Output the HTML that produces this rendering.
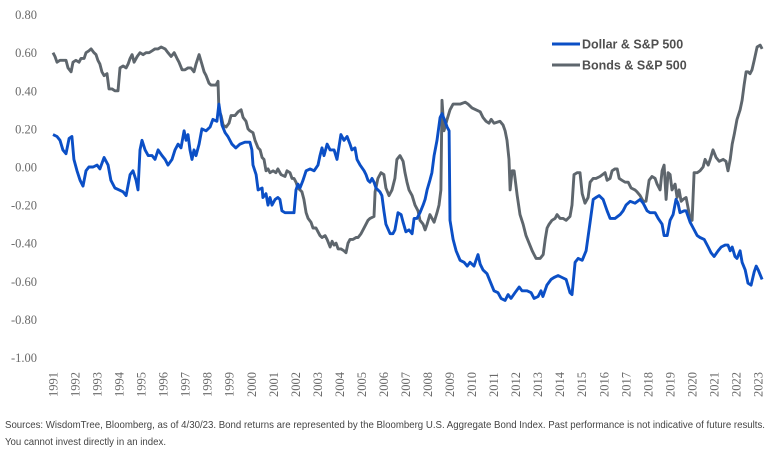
<!DOCTYPE html>
<html><head><meta charset="utf-8"><style>
html,body{margin:0;padding:0;background:#fff;}
svg{display:block;}
.tick{font-family:"Liberation Serif",serif;font-size:12.5px;fill:#6a6a6a;}
.leg{font-family:"Liberation Sans",sans-serif;font-size:12.5px;font-weight:bold;fill:#505050;}
.src{font-family:"Liberation Sans",sans-serif;font-size:10.5px;fill:#444;}
</style></head><body>
<svg id="chart" width="780" height="459" viewBox="0 0 780 459">
<g id="yaxis"></g>
<g id="xaxis"></g>
<g id="series"></g>
<g>
<g>
<line x1="552" y1="44" x2="580" y2="44" stroke="#0b4fc6" stroke-width="3"/>
<text class="leg" x="582" y="48.5">Dollar &amp; S&amp;P 500</text></g>
<g>
<line x1="552" y1="65" x2="580" y2="65" stroke="#5e666d" stroke-width="3"/>
<text class="leg" x="582" y="69.5">Bonds &amp; S&amp;P 500</text></g>
</g>
<text class="src" x="5" y="428" textLength="760" lengthAdjust="spacingAndGlyphs">Sources: WisdomTree, Bloomberg, as of 4/30/23. Bond returns are represented by the Bloomberg U.S. Aggregate Bond Index. Past performance is not indicative of future results.</text>
<text class="src" x="5" y="445" textLength="161" lengthAdjust="spacingAndGlyphs">You cannot invest directly in an index.</text>
</svg>
<script>
const yTicks=[0.8,0.6,0.4,0.2,0,-0.2,-0.4,-0.6,-0.8,-1.0];
const yearLabels=[1991,1992,1993,1994,1995,1996,1997,1998,1999,2000,2001,2002,2003,2004,2005,2006,2007,2008,2009,2010,2011,2012,2013,2014,2015,2016,2017,2018,2019,2020,2021,2022,2023];
const dollarDates=[1991.00,1991.18,1991.32,1991.45,1991.59,1991.73,1991.86,1991.95,1992.09,1992.23,1992.36,1992.50,1992.63,1992.82,1993.00,1993.13,1993.32,1993.50,1993.63,1993.81,1994.00,1994.18,1994.32,1994.50,1994.63,1994.77,1994.86,1994.95,1995.04,1995.18,1995.32,1995.50,1995.63,1995.77,1995.95,1996.09,1996.22,1996.40,1996.54,1996.68,1996.81,1996.95,1997.04,1997.13,1997.22,1997.31,1997.40,1997.49,1997.63,1997.76,1997.95,1998.13,1998.26,1998.44,1998.53,1998.67,1998.81,1998.94,1999.12,1999.30,1999.49,1999.71,1999.94,2000.03,2000.08,2000.22,2000.31,2000.49,2000.53,2000.67,2000.76,2000.85,2000.94,2001.08,2001.21,2001.30,2001.39,2001.53,2001.76,2001.94,2002.03,2002.12,2002.21,2002.35,2002.49,2002.67,2002.85,2003.03,2003.12,2003.21,2003.30,2003.44,2003.58,2003.76,2003.89,2004.07,2004.21,2004.35,2004.48,2004.57,2004.71,2004.80,2004.94,2005.12,2005.21,2005.30,2005.39,2005.48,2005.57,2005.66,2005.75,2005.84,2005.93,2006.02,2006.11,2006.30,2006.43,2006.52,2006.66,2006.80,2006.89,2007.02,2007.16,2007.30,2007.39,2007.52,2007.66,2007.80,2007.89,2007.98,2008.11,2008.20,2008.30,2008.43,2008.57,2008.66,2008.80,2008.89,2008.98,2009.02,2009.16,2009.30,2009.48,2009.66,2009.80,2009.93,2010.11,2010.20,2010.29,2010.39,2010.52,2010.70,2010.84,2011.02,2011.20,2011.34,2011.52,2011.66,2011.79,2011.97,2012.16,2012.29,2012.52,2012.70,2012.84,2013.02,2013.15,2013.24,2013.42,2013.61,2013.74,2013.93,2014.11,2014.29,2014.47,2014.56,2014.70,2014.84,2015.02,2015.20,2015.38,2015.52,2015.65,2015.79,2015.97,2016.15,2016.29,2016.51,2016.74,2016.88,2017.01,2017.20,2017.42,2017.65,2017.79,2017.97,2018.10,2018.33,2018.47,2018.65,2018.74,2018.88,2019.01,2019.15,2019.28,2019.37,2019.46,2019.65,2019.74,2019.92,2020.06,2020.24,2020.37,2020.56,2020.74,2020.87,2021.01,2021.19,2021.33,2021.51,2021.64,2021.74,2021.83,2021.96,2022.05,2022.19,2022.28,2022.42,2022.55,2022.69,2022.83,2022.92,2023.01,2023.19];
const dollarValues=[0.17,0.16,0.14,0.09,0.07,0.15,0.16,0.04,-0.02,-0.07,-0.10,-0.02,0.00,0.00,0.01,-0.01,0.05,0.01,-0.07,-0.11,-0.12,-0.13,-0.15,-0.04,-0.02,-0.07,-0.12,0.09,0.14,0.09,0.06,0.06,0.04,0.09,0.06,0.04,0.01,0.04,0.09,0.12,0.10,0.19,0.14,0.17,0.09,0.04,0.09,0.06,0.12,0.20,0.19,0.21,0.25,0.24,0.33,0.22,0.18,0.16,0.12,0.10,0.12,0.13,0.13,0.09,0.01,-0.04,-0.12,-0.11,-0.16,-0.14,-0.20,-0.16,-0.20,-0.17,-0.16,-0.17,-0.23,-0.24,-0.24,-0.24,-0.12,-0.09,-0.11,-0.07,-0.02,-0.01,-0.02,0.01,0.06,0.10,0.06,0.12,0.09,0.09,0.04,0.17,0.14,0.16,0.12,0.09,0.10,0.04,0.01,-0.02,-0.04,-0.07,-0.08,-0.06,-0.08,-0.11,-0.12,-0.13,-0.15,-0.23,-0.30,-0.35,-0.35,-0.33,-0.24,-0.25,-0.29,-0.34,-0.33,-0.35,-0.27,-0.27,-0.24,-0.20,-0.17,-0.12,-0.07,-0.03,0.06,0.14,0.26,0.28,0.24,0.21,0.19,-0.28,-0.38,-0.44,-0.49,-0.50,-0.52,-0.50,-0.52,-0.49,-0.46,-0.51,-0.54,-0.56,-0.60,-0.65,-0.66,-0.69,-0.70,-0.67,-0.69,-0.66,-0.63,-0.65,-0.65,-0.66,-0.69,-0.68,-0.65,-0.68,-0.62,-0.59,-0.58,-0.57,-0.58,-0.59,-0.66,-0.67,-0.50,-0.48,-0.49,-0.44,-0.29,-0.17,-0.16,-0.15,-0.17,-0.23,-0.27,-0.27,-0.25,-0.23,-0.20,-0.18,-0.19,-0.17,-0.19,-0.23,-0.24,-0.24,-0.27,-0.30,-0.36,-0.36,-0.28,-0.25,-0.17,-0.19,-0.24,-0.23,-0.23,-0.29,-0.32,-0.36,-0.37,-0.38,-0.42,-0.45,-0.47,-0.44,-0.42,-0.41,-0.41,-0.44,-0.42,-0.47,-0.48,-0.44,-0.50,-0.54,-0.61,-0.62,-0.55,-0.52,-0.54,-0.59];
const bondDates=[1991.00,1991.09,1991.18,1991.32,1991.59,1991.68,1991.82,1991.91,1992.04,1992.18,1992.27,1992.41,1992.50,1992.63,1992.73,1992.86,1992.95,1993.04,1993.13,1993.22,1993.32,1993.45,1993.54,1993.68,1993.81,1993.95,1994.04,1994.18,1994.32,1994.41,1994.50,1994.59,1994.68,1994.82,1994.95,1995.09,1995.22,1995.36,1995.50,1995.63,1995.77,1995.91,1996.09,1996.22,1996.36,1996.50,1996.63,1996.72,1996.86,1996.99,1997.13,1997.26,1997.40,1997.49,1997.63,1997.76,1997.86,1997.95,1998.08,1998.17,1998.40,1998.49,1998.53,1998.63,1998.72,1998.86,1998.99,1999.08,1999.26,1999.40,1999.54,1999.63,1999.76,1999.85,1999.94,2000.08,2000.17,2000.31,2000.40,2000.49,2000.58,2000.67,2000.76,2000.85,2000.99,2001.12,2001.21,2001.35,2001.53,2001.62,2001.76,2001.85,2001.94,2002.03,2002.12,2002.21,2002.30,2002.39,2002.49,2002.58,2002.71,2002.80,2002.94,2003.03,2003.12,2003.21,2003.35,2003.44,2003.58,2003.67,2003.76,2003.85,2003.94,2004.07,2004.21,2004.30,2004.39,2004.48,2004.62,2004.76,2004.85,2004.98,2005.07,2005.21,2005.30,2005.39,2005.57,2005.62,2005.75,2005.89,2006.02,2006.11,2006.25,2006.39,2006.52,2006.61,2006.75,2006.89,2006.98,2007.07,2007.16,2007.30,2007.43,2007.57,2007.66,2007.80,2007.89,2007.98,2008.11,2008.30,2008.43,2008.52,2008.61,2008.66,2008.75,2008.89,2009.02,2009.16,2009.30,2009.48,2009.71,2009.84,2010.02,2010.20,2010.39,2010.52,2010.66,2010.79,2010.89,2011.02,2011.29,2011.43,2011.52,2011.61,2011.70,2011.75,2011.84,2011.93,2012.07,2012.20,2012.34,2012.47,2012.61,2012.75,2012.84,2012.93,2013.11,2013.25,2013.34,2013.43,2013.52,2013.65,2013.79,2013.88,2014.02,2014.15,2014.29,2014.47,2014.56,2014.65,2014.79,2014.92,2015.02,2015.15,2015.29,2015.38,2015.52,2015.65,2015.83,2016.06,2016.15,2016.29,2016.38,2016.51,2016.61,2016.70,2016.83,2016.97,2017.11,2017.24,2017.42,2017.51,2017.65,2017.79,2017.92,2018.06,2018.19,2018.33,2018.42,2018.56,2018.65,2018.74,2018.83,2018.92,2019.01,2019.10,2019.24,2019.33,2019.42,2019.51,2019.60,2019.74,2019.92,2020.01,2020.10,2020.24,2020.37,2020.51,2020.60,2020.74,2020.83,2020.96,2021.10,2021.24,2021.42,2021.55,2021.64,2021.74,2021.83,2021.92,2022.05,2022.19,2022.28,2022.37,2022.46,2022.55,2022.64,2022.73,2022.83,2022.96,2023.10,2023.19];
const bondValues=[0.60,0.58,0.55,0.56,0.56,0.52,0.50,0.55,0.56,0.55,0.57,0.57,0.60,0.61,0.62,0.60,0.59,0.56,0.54,0.50,0.48,0.49,0.41,0.41,0.40,0.40,0.52,0.53,0.52,0.54,0.57,0.59,0.55,0.58,0.60,0.59,0.60,0.60,0.61,0.62,0.62,0.63,0.62,0.60,0.58,0.60,0.57,0.55,0.51,0.51,0.52,0.52,0.50,0.54,0.59,0.54,0.50,0.48,0.44,0.43,0.43,0.45,0.30,0.27,0.22,0.21,0.23,0.27,0.27,0.29,0.30,0.26,0.24,0.20,0.19,0.18,0.14,0.10,0.09,0.05,0.04,-0.02,-0.01,-0.03,-0.02,-0.03,-0.01,-0.04,-0.05,-0.02,-0.03,-0.06,-0.06,-0.08,-0.11,-0.12,-0.13,-0.17,-0.24,-0.27,-0.29,-0.32,-0.32,-0.34,-0.36,-0.37,-0.36,-0.38,-0.42,-0.39,-0.41,-0.40,-0.43,-0.43,-0.44,-0.45,-0.40,-0.38,-0.38,-0.37,-0.37,-0.35,-0.33,-0.30,-0.28,-0.27,-0.26,-0.13,-0.06,-0.03,-0.04,-0.11,-0.15,-0.12,-0.06,0.04,0.06,0.03,-0.03,-0.08,-0.12,-0.15,-0.20,-0.23,-0.28,-0.30,-0.33,-0.30,-0.25,-0.29,-0.24,-0.20,-0.12,0.35,0.19,0.25,0.30,0.33,0.33,0.33,0.34,0.33,0.31,0.30,0.29,0.26,0.24,0.23,0.25,0.23,0.24,0.22,0.19,0.14,0.04,-0.12,-0.02,-0.02,-0.15,-0.25,-0.30,-0.36,-0.40,-0.44,-0.46,-0.48,-0.48,-0.46,-0.38,-0.32,-0.30,-0.28,-0.27,-0.25,-0.27,-0.27,-0.28,-0.26,-0.20,-0.04,-0.03,-0.03,-0.14,-0.19,-0.16,-0.08,-0.06,-0.06,-0.05,-0.03,-0.07,-0.06,-0.02,-0.01,-0.01,-0.06,-0.07,-0.08,-0.08,-0.11,-0.12,-0.13,-0.15,-0.18,-0.18,-0.07,-0.05,-0.06,-0.09,-0.12,-0.02,0.01,-0.17,-0.03,-0.04,-0.12,-0.09,-0.16,-0.12,-0.18,-0.17,-0.16,-0.27,-0.28,-0.03,-0.03,-0.02,0.00,0.04,0.01,0.04,0.09,0.05,0.03,0.04,0.03,-0.02,0.04,0.12,0.17,0.25,0.30,0.35,0.43,0.50,0.50,0.49,0.51,0.56,0.63,0.64,0.62];

const NS='http://www.w3.org/2000/svg';
function xScale(t){return 53+(t-1991)*22.03;}
function yScale(v){return 167-v*190.5;}
const yG=document.getElementById('yaxis');
yTicks.forEach(function(v){
  const t=document.createElementNS(NS,'text');
  t.setAttribute('class','tick');
  t.setAttribute('x',37);t.setAttribute('y',yScale(v)+4.5);
  t.setAttribute('text-anchor','end');
  t.textContent=v.toFixed(2);
  
  
  yG.appendChild(t);
});
const xG=document.getElementById('xaxis');
yearLabels.forEach(function(y){
  const t=document.createElementNS(NS,'text');
  t.setAttribute('class','tick');
  const x=xScale(y)+4.5;
  t.setAttribute('transform','translate('+x+',397) rotate(-90)');
  t.textContent=String(y);
  
  
  xG.appendChild(t);
});
function drawLine(dates,vals,color,name){
  let d='';
  for(let i=0;i<dates.length;i++){d+=(i?'L':'M')+xScale(dates[i]).toFixed(1)+' '+yScale(vals[i]).toFixed(1);}
  const p=document.createElementNS(NS,'path');
  p.setAttribute('d',d);p.setAttribute('fill','none');p.setAttribute('stroke',color);
  p.setAttribute('stroke-width','2.9');p.setAttribute('stroke-linejoin','round');
  
  
  document.getElementById('series').appendChild(p);
}
drawLine(bondDates,bondValues,'#5e666d','bonds-sp500-line');
drawLine(dollarDates,dollarValues,'#0b4fc6','dollar-sp500-line');
</script>
</body></html>
